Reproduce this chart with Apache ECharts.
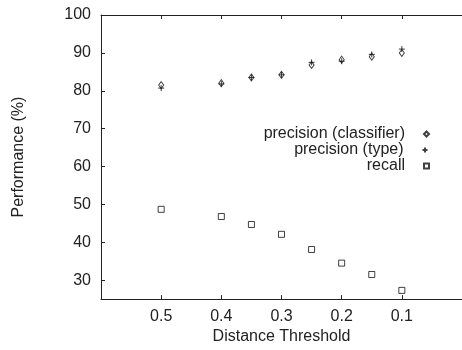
<!DOCTYPE html>
<html><head><meta charset="utf-8">
<script src="https://cdn.jsdelivr.net/npm/echarts@6/dist/echarts.min.js"></script>
<style>html,body{margin:0;padding:0;background:#fff}#c{width:462px;height:350px}</style>
</head><body><div id="c"></div>
<script>
const thresholds = [0.5, 0.4, 0.35, 0.3, 0.25, 0.2, 0.15, 0.1];
const precisionClassifier = [81.5, 82.0, 83.5, 84.2, 86.8, 88.2, 89.0, 90.0];
const precisionType = [80.7, 81.8, 83.5, 84.2, 87.5, 87.8, 89.6, 91.0];
const recall = [48.7, 46.8, 44.7, 42.1, 38.1, 34.5, 31.5, 27.3];
const xTicks = [0.5, 0.4, 0.3, 0.2, 0.1];
const yTicks = [30, 40, 50, 60, 70, 80, 90, 100];

const FONT = 'Liberation Sans';
const INK = '#222';
const pair = (xs, ys) => xs.map((x, i) => [x, ys[i]]);
const plusPath = 'path://M0,5L10,5M5,0L5,10';

const chart = echarts.init(document.getElementById('c'), null, {renderer: 'canvas'});
const axisCommon = {
  type: 'value', min: 0, max: 0.6, interval: 0.1, inverse: true,
  axisLine: {show: true, onZero: false, lineStyle: {color: INK, width: 1}},
  axisTick: {show: true, inside: true, length: 4, lineStyle: {color: INK, width: 1}},
  splitLine: {show: false}
};
const legendCommon = {
  orient: 'vertical', right: 32, padding: 0, align: 'right',
  itemWidth: 5, itemHeight: 5, selectedMode: false,
  textStyle: {fontFamily: FONT, fontSize: 16, color: INK, padding: [0, 14, 0, 0]}
};
chart.setOption({
  animation: false,
  grid: {left: 101, right: -7, top: 15, bottom: 40},
  xAxis: [
    Object.assign({}, axisCommon, {
      position: 'bottom',
      name: 'Distance Threshold', nameLocation: 'middle', nameGap: 25,
      nameTextStyle: {fontFamily: FONT, fontSize: 16, color: INK},
      axisLabel: {margin: 9, fontFamily: FONT, fontSize: 16, color: INK,
        showMinLabel: false, showMaxLabel: false,
        formatter: v => (xTicks.some(t => Math.abs(t - v) < 1e-9) ? v.toFixed(1) : '')}
    }),
    Object.assign({}, axisCommon, {position: 'top', axisLabel: {show: false}})
  ],
  yAxis: {
    type: 'value', min: 25, max: 100,
    name: 'Performance (%)', nameLocation: 'middle', nameGap: 74,
    nameTextStyle: {fontFamily: FONT, fontSize: 16, color: INK},
    axisLine: {show: true, onZero: false, lineStyle: {color: INK, width: 1}},
    axisTick: {show: true, inside: true, length: 4, customValues: yTicks, lineStyle: {color: INK, width: 1}},
    axisLabel: {customValues: yTicks, margin: 10, fontFamily: FONT, fontSize: 16, color: INK},
    splitLine: {show: false}
  },
  legend: [
    Object.assign({}, legendCommon, {top: 126, data: ['precision (classifier)']}),
    Object.assign({}, legendCommon, {top: 142, data: ['precision (type)']}),
    Object.assign({}, legendCommon, {top: 158, data: ['recall']})
  ],
  series: [
    {name: 'precision (classifier)', type: 'scatter', symbol: 'diamond', symbolSize: [5, 7],
     itemStyle: {color: '#fff', borderColor: '#111', borderWidth: 1},
     data: pair(thresholds, precisionClassifier)},
    {name: 'precision (type)', type: 'scatter', symbol: plusPath, symbolSize: 6,
     itemStyle: {color: 'none', borderColor: '#111', borderWidth: 1},
     data: pair(thresholds, precisionType)},
    {name: 'recall', type: 'scatter', symbol: 'rect', symbolSize: 6,
     itemStyle: {color: '#fff', borderColor: '#111', borderWidth: 1},
     data: pair(thresholds, recall)}
  ]
});
</script></body></html>
